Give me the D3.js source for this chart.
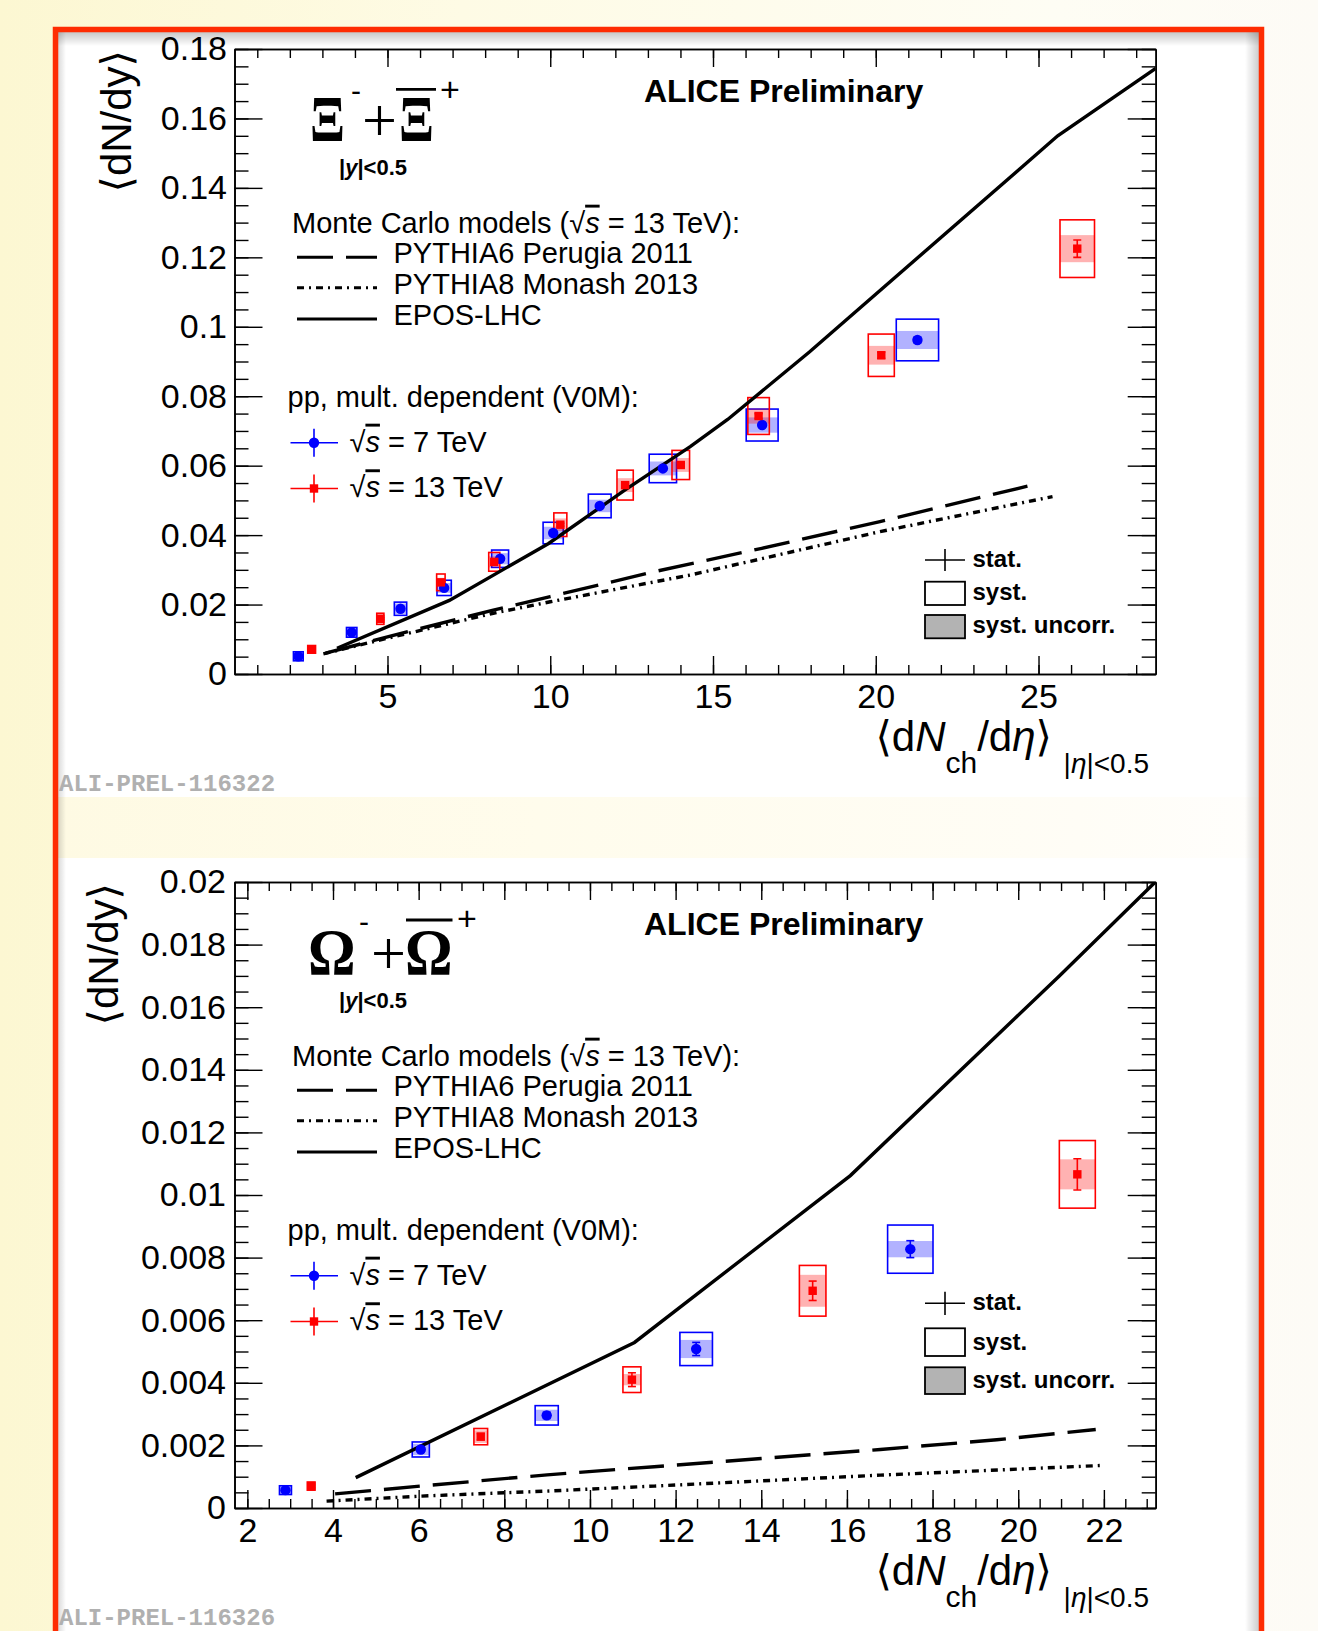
<!DOCTYPE html>
<meta charset="utf-8">
<script src="https://d3js.org/d3.v7.min.js"></script>
<style>
  body { margin: 0; background: #fdfbea; }
  svg { display: block; font-family: "Liberation Sans", Arial, "DejaVu Sans", sans-serif; }
</style>
<div id="chart"></div>
<script>

// ---------- Xi panel : <dN/dy> vs <dNch/deta> ----------
var xiXTicks = [5, 10, 15, 20, 25];
var xiYTicks = [0, 0.02, 0.04, 0.06, 0.08, 0.1, 0.12, 0.14, 0.16, 0.18];

// pp 7 TeV (blue)
var xi7X    = [2.26, 3.90, 5.40, 6.74, 8.46, 10.09, 11.52, 13.46, 16.51, 21.28];
var xi7Y    = [0.0051, 0.0120, 0.0188, 0.0248, 0.0332, 0.0406, 0.0484, 0.0592, 0.0717, 0.0962];
var xi7Dx   = [0.15, 0.16, 0.19, 0.22, 0.26, 0.31, 0.35, 0.42, 0.49, 0.65];
var xi7Sys  = [0.0013, 0.0014, 0.0019, 0.0022, 0.0025, 0.0031, 0.0034, 0.0041, 0.0046, 0.0060];
var xi7Unc  = [0.0011, 0.0013, 0.0015, 0.0014, 0.0016, 0.0018, 0.0018, 0.0020, 0.0022, 0.0026];
var xi7Stat = [0.0002, 0.0002, 0.0002, 0.0002, 0.0003, 0.0003, 0.0003, 0.0004, 0.0005, 0.0008];

// pp 13 TeV (red)
var xi13X    = [2.67, 4.78, 6.64, 8.28, 10.31, 12.30, 14.01, 16.40, 20.17, 26.19];
var xi13Y    = [0.0071, 0.0159, 0.0264, 0.0323, 0.0430, 0.0544, 0.0602, 0.0743, 0.0918, 0.1225];
var xi13Dx   = [0.12, 0.11, 0.13, 0.17, 0.20, 0.25, 0.27, 0.33, 0.40, 0.53];
var xi13Sys  = [0.0011, 0.0016, 0.0024, 0.0027, 0.0034, 0.0043, 0.0042, 0.0053, 0.0061, 0.0083];
var xi13Unc  = [0.0009, 0.0013, 0.0013, 0.0016, 0.0018, 0.0020, 0.0020, 0.0022, 0.0027, 0.0039];
var xi13Stat = [0.0002, 0.0003, 0.0003, 0.0003, 0.0004, 0.0005, 0.0005, 0.0007, 0.0009, 0.0025];

// MC models 13 TeV
var xiP6X   = [3.1, 5.0, 8.25, 10.0, 13.07, 16.5, 20.13, 24.66];
var xiP6Y   = [0.0060, 0.0107, 0.0184, 0.0223, 0.0292, 0.0362, 0.0439, 0.0541];
var xiP8X   = [3.03, 5.0, 8.25, 10.0, 14.3, 20.13, 25.43];
var xiP8Y   = [0.0058, 0.0103, 0.0175, 0.0208, 0.0285, 0.0410, 0.0511];
var xiEposX = [3.45, 6.9, 9.95, 12.3, 14.3, 15.45, 17.97, 25.59, 28.6];
var xiEposY = [0.0074, 0.0212, 0.0376, 0.0530, 0.0655, 0.0733, 0.0928, 0.1550, 0.1744];

// ---------- Omega panel ----------
var omXTicks = [2, 4, 6, 8, 10, 12, 14, 16, 18, 20, 22];
var omYTicks = [0, 0.002, 0.004, 0.006, 0.008, 0.01, 0.012, 0.014, 0.016, 0.018, 0.02];

var om7X    = [2.89, 6.05, 8.99, 12.48, 17.48];
var om7Y    = [0.00057, 0.00187, 0.00296, 0.00508, 0.00827];
var om7Dx   = [0.14, 0.20, 0.27, 0.38, 0.53];
var om7Sys  = [0.00014, 0.00024, 0.00031, 0.00053, 0.00077];
var om7Unc  = [0.00012, 0.00018, 0.00018, 0.00029, 0.00026];
var om7Stat = [0.00005, 0.00008, 0.00010, 0.00021, 0.00027];

var om13X    = [3.49, 7.45, 10.98, 15.20, 21.38];
var om13Y    = [0.00070, 0.00228, 0.00410, 0.00694, 0.01066];
var om13Dx   = [0.09, 0.16, 0.21, 0.31, 0.42];
var om13Sys  = [0.00013, 0.00026, 0.00041, 0.00081, 0.00108];
var om13Unc  = [0.00011, 0.00020, 0.00018, 0.00051, 0.00048];
var om13Stat = [0.00005, 0.00010, 0.00022, 0.00031, 0.00050];

var omP6X   = [4.05, 6.05, 9.0, 11.5, 14.0, 16.78, 19.5, 21.81];
var omP6Y   = [0.00045, 0.00070, 0.00106, 0.00132, 0.00158, 0.00187, 0.00218, 0.00251];
var omP8X   = [3.85, 6.05, 9.0, 11.5, 16.78, 21.96];
var omP8Y   = [0.00022, 0.00038, 0.00054, 0.00070, 0.00105, 0.00136];
var omEposX = [4.53, 11.04, 16.08, 20.96, 23.2];
var omEposY = [0.00097, 0.00529, 0.01062, 0.0170, 0.0200];

var mcLabels = ["PYTHIA6 Perugia 2011", "PYTHIA8 Monash 2013", "EPOS-LHC"];

// ----------------------------------------------------------------
var W = 1318, H = 1631;
var BLUE = "#0000ff", RED = "#ff0000";
var DASH = "36,13", DASHDOT = "7,5,2,5";
var SANS = "Liberation Sans, Arial, sans-serif";
var SERIF = "Liberation Serif, Times New Roman, serif";

var svg = d3.select("#chart").append("svg").attr("width", W).attr("height", H);
var defs = svg.append("defs");

function grad(id, stops, x2, y2) {
  var gr = defs.append("linearGradient").attr("id", id)
    .attr("x1", 0).attr("y1", 0).attr("x2", x2).attr("y2", y2);
  stops.forEach(function(s) {
    gr.append("stop").attr("offset", s[0]).attr("stop-color", s[1]).attr("stop-opacity", s[2] == null ? 1 : s[2]);
  });
}
grad("bg", [[0, "#fcf7d2"], [0.35, "#fefbe5"], [0.8, "#fefdf4"], [1, "#fdfbf6"]], 1, 0);
grad("band", [[0, "#fefae3"], [0.4, "#fffcec"], [0.85, "#fffdf6"], [1, "#fffefc"]], 1, 0);
grad("shTop", [[0, "#000", 0.22], [1, "#000", 0]], 0, 1);
grad("shRight", [[0, "#000", 0], [1, "#000", 0.2]], 1, 0);
grad("shLeft", [[0, "#000", 0.15], [1, "#000", 0]], 1, 0);

// slide background and frame
svg.append("rect").attr("width", W).attr("height", H).attr("fill", "url(#bg)");
svg.append("rect").attr("x", 58).attr("y", 32).attr("width", 1201).attr("height", 765).attr("fill", "#fff");
svg.append("rect").attr("x", 58).attr("y", 797).attr("width", 1201).attr("height", 61).attr("fill", "url(#band)");
svg.append("rect").attr("x", 58).attr("y", 858).attr("width", 1201).attr("height", 773).attr("fill", "#fff");
svg.append("rect").attr("x", 58).attr("y", 32).attr("width", 1201).attr("height", 14).attr("fill", "url(#shTop)");
svg.append("rect").attr("x", 1245).attr("y", 32).attr("width", 14).attr("height", 1599).attr("fill", "url(#shRight)");
svg.append("rect").attr("x", 58).attr("y", 32).attr("width", 8).attr("height", 1599).attr("fill", "url(#shLeft)");
svg.append("path").attr("d", "M55.5,1631 V29.5 H1261.5 V1631")
  .attr("fill", "none").attr("stroke", "#fe2c02").attr("stroke-width", 5.5);

function rows(xs, ys, dx, sys, unc, stat) {
  return xs.map(function(v, i) {
    return {x: v, y: ys[i], dx: dx[i], sys: sys[i], unc: unc[i], stat: stat[i]};
  });
}
function pts(xs, ys) { return xs.map(function(v, i) { return [v, ys[i]]; }); }

var panels = [
  {id: "xi", top: 49, bottom: 674, left: 234.5, right: 1155.7,
   xDomain: [0.3, 28.6], yDomain: [0, 0.18],
   xTicks: xiXTicks, xMinor: d3.range(1, 29, 1), yTicks: xiYTicks, yMinor: d3.range(0, 0.1801, 0.005),
   yLabPad: 7.5, yTitleX: 131, off: 0,
   s7: rows(xi7X, xi7Y, xi7Dx, xi7Sys, xi7Unc, xi7Stat),
   s13: rows(xi13X, xi13Y, xi13Dx, xi13Sys, xi13Unc, xi13Stat),
   p6: pts(xiP6X, xiP6Y), p8: pts(xiP8X, xiP8Y), epos: pts(xiEposX, xiEposY),
   glyph: "Ξ", gsx: 0.78, g1: 310, plus: 362, g2: 399, ovl: [396, 436, 89.3], base: 141,
   supM: [351, 101], supP: [440, 100.5],
   leg2: {cross: 560, cv: [549, 571], b1: [581.7, 605], b2: [615, 638.3], t: [566.7, 600, 633.3]},
   pid: "ALI-PREL-116322", pidY: 790.7},
  {id: "om", top: 882, bottom: 1508, left: 234.5, right: 1155.7,
   xDomain: [1.7, 23.21], yDomain: [0, 0.02],
   xTicks: omXTicks, xMinor: d3.range(2, 23.01, 0.5), yTicks: omYTicks, yMinor: d3.range(0, 0.02001, 0.0005),
   yLabPad: 8.5, yTitleX: 118, off: 833,
   s7: rows(om7X, om7Y, om7Dx, om7Sys, om7Unc, om7Stat),
   s13: rows(om13X, om13Y, om13Dx, om13Sys, om13Unc, om13Stat),
   p6: pts(omP6X, omP6Y), p8: pts(omP8X, omP8Y), epos: pts(omEposX, omEposY),
   glyph: "Ω", gsx: 0.9, g1: 308, plus: 371, g2: 405, ovl: [406, 452.5, 920], base: 973.5,
   supM: [359, 932], supP: [457, 930],
   leg2: {cross: 1303.3, cv: [1291.7, 1315], b1: [1328.3, 1356], b2: [1367.3, 1394], t: [1310, 1350, 1388.3]},
   pid: "ALI-PREL-116326", pidY: 1625}
];

function fmt(v) { return String(+v.toFixed(4)); }

panels.forEach(function(p) {
  var x = d3.scaleLinear().domain(p.xDomain).range([p.left, p.right]);
  var y = d3.scaleLinear().domain(p.yDomain).range([p.bottom, p.top]);
  var g = svg.append("g");
  var o = p.off;

  defs.append("clipPath").attr("id", "clip-" + p.id).append("rect")
    .attr("x", p.left).attr("y", p.top).attr("width", p.right - p.left).attr("height", p.bottom - p.top);

  // axes, ROOT style: ticks point inwards on all four sides
  var xMin = p.xMinor.filter(function(v) { return v >= p.xDomain[0] && v <= p.xDomain[1]; });
  function ax(gen, tr, vals, size, labels) {
    var a = g.append("g").attr("transform", tr)
      .call(gen.tickValues(vals).tickSize(size).tickSizeOuter(0).tickFormat(labels ? fmt : ""));
    a.select(".domain").attr("stroke-width", 1.6);
    a.selectAll(".tick line").attr("stroke-width", 1.4);
    a.selectAll("text").attr("font-size", 34).attr("font-family", SANS).attr("fill", "#000");
    return a;
  }
  ax(d3.axisBottom(x), "translate(0," + p.bottom + ")", xMin, -9, false);
  ax(d3.axisBottom(x).tickPadding(10), "translate(0," + p.bottom + ")", p.xTicks, -18, true);
  ax(d3.axisTop(x), "translate(0," + p.top + ")", xMin, -9, false);
  ax(d3.axisTop(x), "translate(0," + p.top + ")", p.xTicks, -18, false);
  ax(d3.axisLeft(y), "translate(" + p.left + ",0)", p.yMinor, -14, false);
  ax(d3.axisLeft(y).tickPadding(p.yLabPad), "translate(" + p.left + ",0)", p.yTicks, -28, true);
  ax(d3.axisRight(y), "translate(" + p.right + ",0)", p.yMinor, -14, false);
  ax(d3.axisRight(y), "translate(" + p.right + ",0)", p.yTicks, -28, false);

  // data: uncorrelated (shaded) and total systematic boxes
  var data = g.append("g").attr("clip-path", "url(#clip-" + p.id + ")");
  [[p.s7, BLUE], [p.s13, RED]].forEach(function(s) {
    data.selectAll(null).data(s[0]).enter().append("rect")
      .attr("x", function(d) { return x(d.x - d.dx); })
      .attr("width", function(d) { return x(d.x + d.dx) - x(d.x - d.dx); })
      .attr("y", function(d) { return y(d.y + d.unc); })
      .attr("height", function(d) { return y(d.y - d.unc) - y(d.y + d.unc); })
      .attr("fill", s[1]).attr("fill-opacity", 0.3);
    data.selectAll(null).data(s[0]).enter().append("rect")
      .attr("x", function(d) { return x(d.x - d.dx); })
      .attr("width", function(d) { return x(d.x + d.dx) - x(d.x - d.dx); })
      .attr("y", function(d) { return y(d.y + d.sys); })
      .attr("height", function(d) { return y(d.y - d.sys) - y(d.y + d.sys); })
      .attr("fill", "none").attr("stroke", s[1]).attr("stroke-width", 1.6);
  });

  // model curves
  var line = d3.line().x(function(d) { return x(d[0]); }).y(function(d) { return y(d[1]); });
  [[p.p6, DASH], [p.p8, DASHDOT], [p.epos, null]].forEach(function(c) {
    data.append("path").attr("d", line(c[0])).attr("fill", "none")
      .attr("stroke", "#000").attr("stroke-width", 3.4)
      .attr("stroke-dasharray", c[1]);
  });

  // statistical error bars and markers
  [[p.s7, BLUE], [p.s13, RED]].forEach(function(s) {
    var e = data.selectAll(null).data(s[0]).enter().append("g").attr("stroke", s[1]).attr("stroke-width", 1.6);
    e.append("line").attr("x1", function(d) { return x(d.x); }).attr("x2", function(d) { return x(d.x); })
      .attr("y1", function(d) { return y(d.y - d.stat); }).attr("y2", function(d) { return y(d.y + d.stat); });
    [-1, 1].forEach(function(k) {
      e.append("line").attr("x1", function(d) { return x(d.x) - 4; }).attr("x2", function(d) { return x(d.x) + 4; })
        .attr("y1", function(d) { return y(d.y + k * d.stat); }).attr("y2", function(d) { return y(d.y + k * d.stat); });
    });
  });
  data.selectAll(null).data(p.s7).enter().append("circle")
    .attr("cx", function(d) { return x(d.x); }).attr("cy", function(d) { return y(d.y); })
    .attr("r", 5.2).attr("fill", BLUE);
  data.selectAll(null).data(p.s13).enter().append("rect")
    .attr("x", function(d) { return x(d.x) - 4.2; }).attr("y", function(d) { return y(d.y) - 4.2; })
    .attr("width", 8.4).attr("height", 8.4).attr("fill", RED);

  // y title
  g.append("text").attr("transform", "translate(" + p.yTitleX + "," + (p.top + 1) + ") rotate(-90)")
    .attr("text-anchor", "end").attr("font-size", 42).text("⟨dN/dy⟩");

  // x title
  var t = g.append("text").attr("x", 1149).attr("y", p.bottom + 77).attr("text-anchor", "end").attr("font-size", 42);
  t.append("tspan").text("⟨d");
  t.append("tspan").attr("font-style", "italic").text("N");
  t.append("tspan").attr("font-size", 30).attr("dy", 22).text("ch");
  t.append("tspan").attr("dy", -22).text("/d");
  t.append("tspan").attr("font-style", "italic").text("η");
  t.append("tspan").text("⟩ ");
  t.append("tspan").attr("font-size", 28).attr("dy", 22).text("|");
  t.append("tspan").attr("font-size", 28).attr("font-style", "italic").text("η");
  t.append("tspan").attr("font-size", 28).text("|<0.5");

  // particle label
  [p.g1, p.g2].forEach(function(gx) {
    g.append("text").attr("transform", "translate(" + gx + "," + p.base + ") scale(" + p.gsx + ",1)")
      .attr("font-family", SERIF).attr("font-weight", "bold").attr("font-size", 66).text(p.glyph);
  });
  g.append("text").attr("x", p.plus).attr("y", p.base).attr("font-family", SERIF).attr("font-size", 62).text("+");
  g.append("text").attr("x", p.supM[0]).attr("y", p.supM[1]).attr("font-size", 30).text("-");
  g.append("text").attr("x", p.supP[0]).attr("y", p.supP[1]).attr("font-size", 34).text("+");
  g.append("line").attr("x1", p.ovl[0]).attr("x2", p.ovl[1]).attr("y1", p.ovl[2]).attr("y2", p.ovl[2])
    .attr("stroke", "#000").attr("stroke-width", 2.8);
  var yl = g.append("text").attr("x", 339).attr("y", 175 + o).attr("font-size", 22).attr("font-weight", "bold");
  yl.append("tspan").text("|");
  yl.append("tspan").attr("font-style", "italic").text("y");
  yl.append("tspan").text("|<0.5");

  g.append("text").attr("x", 644).attr("y", 101.7 + o).attr("font-size", 32).attr("font-weight", "bold").text("ALICE Preliminary");

  // MC legend
  var mc = g.append("text").attr("x", 292).attr("y", 232.7 + o).attr("font-size", 29);
  mc.append("tspan").text("Monte Carlo models (√");
  mc.append("tspan").attr("font-style", "italic").attr("text-decoration", "overline").text("s");
  mc.append("tspan").text(" = 13 TeV):");
  [DASH, DASHDOT, null].forEach(function(da, i) {
    var base = [263.3, 293.8, 325][i] + o;
    g.append("line").attr("x1", 297).attr("x2", 377).attr("y1", base - 6).attr("y2", base - 6)
      .attr("stroke", "#000").attr("stroke-width", 3).attr("stroke-dasharray", da);
    g.append("text").attr("x", 393.5).attr("y", base).attr("font-size", 29).text(mcLabels[i]);
  });

  // data legend
  g.append("text").attr("x", 287.5).attr("y", 406.7 + o).attr("font-size", 29).text("pp, mult. dependent (V0M):");
  [[BLUE, "7", 442.7, 451.7], [RED, "13", 488.5, 497.3]].forEach(function(e, i) {
    var cy = e[2] + o;
    g.append("line").attr("x1", 290.5).attr("x2", 338).attr("y1", cy).attr("y2", cy).attr("stroke", e[0]).attr("stroke-width", 1.6);
    g.append("line").attr("x1", 314).attr("x2", 314).attr("y1", cy - 14).attr("y2", cy + 14).attr("stroke", e[0]).attr("stroke-width", 1.6);
    if (i === 0) g.append("circle").attr("cx", 314).attr("cy", cy).attr("r", 5.2).attr("fill", e[0]);
    else g.append("rect").attr("x", 309.8).attr("y", cy - 4.2).attr("width", 8.4).attr("height", 8.4).attr("fill", e[0]);
    var lt = g.append("text").attr("x", 349.5).attr("y", e[3] + o).attr("font-size", 29);
    lt.append("tspan").text("√");
    lt.append("tspan").attr("font-style", "italic").attr("text-decoration", "overline").text("s");
    lt.append("tspan").text(" = " + e[1] + " TeV");
  });

  // uncertainty legend
  var L = p.leg2;
  g.append("line").attr("x1", 925).attr("x2", 965).attr("y1", L.cross).attr("y2", L.cross).attr("stroke", "#000").attr("stroke-width", 1.6);
  g.append("line").attr("x1", 945).attr("x2", 945).attr("y1", L.cv[0]).attr("y2", L.cv[1]).attr("stroke", "#000").attr("stroke-width", 1.6);
  g.append("rect").attr("x", 925).attr("y", L.b1[0]).attr("width", 40).attr("height", L.b1[1] - L.b1[0])
    .attr("fill", "#fff").attr("stroke", "#000").attr("stroke-width", 1.8);
  g.append("rect").attr("x", 925).attr("y", L.b2[0]).attr("width", 40).attr("height", L.b2[1] - L.b2[0])
    .attr("fill", "#b3b3b3").attr("stroke", "#000").attr("stroke-width", 1.8);
  ["stat.", "syst.", "syst. uncorr."].forEach(function(s, i) {
    g.append("text").attr("x", 972.5).attr("y", L.t[i]).attr("font-size", 24).attr("font-weight", "bold").text(s);
  });

  g.append("text").attr("x", 59).attr("y", p.pidY).attr("font-family", "Liberation Mono, Courier New, monospace")
    .attr("font-weight", "bold").attr("font-size", 24).attr("fill", "#b0b0b0").text(p.pid);
});

</script>
